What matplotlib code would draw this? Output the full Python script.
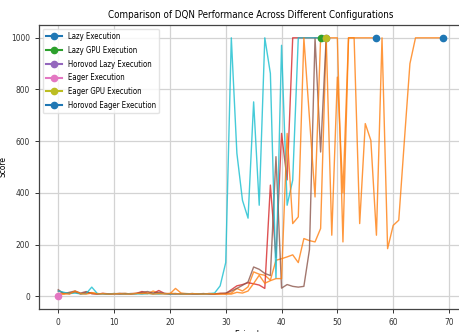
import matplotlib
matplotlib.use("Agg")
import matplotlib.pyplot as plt

# ---------------- data ----------------
config_names = ["Lazy Execution", "Lazy GPU Execution", "Horovod Lazy Execution",
                "Eager Execution", "Eager GPU Execution", "Horovod Eager Execution"]

lazy_scores = [10, 8, 12, 15, 9, 11, 14, 10, 9, 8, 10, 9, 11, 8, 10, 12, 9, 20, 11, 10,
               9, 30, 12, 10, 9, 8, 10, 9, 8, 10, 10,
               12, 30, 20, 36, 94, 85, 81, 62, 139, 145, 152, 160, 130, 223, 215, 210, 262,
               1000, 1000, 1000, 210, 1000, 1000, 1000, 1000, 1000, 1000]

lazy_gpu_scores = [20, 12, 10, 18, 9, 15, 10, 8, 11, 9, 10, 8, 9, 10, 11, 18, 12, 10, 22, 11,
                   9, 10, 8, 9, 10, 8, 9, 10, 9, 11, 10,
                   25, 40, 45, 52, 48, 43, 30, 430, 150, 630, 450, 1000, 1000, 1000, 1000,
                   1000, 1000]

horovod_lazy_scores = [25, 10, 15, 20, 12, 18, 10, 9, 10, 8, 9, 11, 10, 9, 10, 15, 18, 12, 15,
                       10, 9, 8, 10, 9, 8, 9, 10, 8, 9, 10, 12,
                       20, 30, 42, 55, 113, 104, 88, 80, 540, 31, 45, 38, 35, 38, 180, 1000,
                       558, 1000]

eager_scores = [0]

eager_gpu_scores = [20, 15, 10, 12, 9, 10, 35, 10, 9, 8, 10, 9, 8, 10, 9, 8, 10, 9, 8, 10,
                    9, 10, 8, 9, 10, 9, 8, 10, 12, 40, 130,
                    1000, 553, 371, 302, 752, 352, 1000, 862, 70, 971, 352, 449, 1000, 1000,
                    1000, 1000, 1000, 1000]

horovod_eager_scores = [5, 10, 8, 20, 10, 8, 12, 9, 10, 8, 9, 10, 8, 9, 11, 10, 12, 8, 10, 9,
                        11, 10, 9, 8, 10, 9, 8, 10, 9, 8, 8,
                        8, 15, 12, 20, 49, 81, 50, 60, 68, 68, 630, 281, 307, 1000, 690, 384,
                        1000, 1000, 236, 848, 400, 1000, 1000, 281, 668, 603, 236, 1000, 184,
                        274, 294, 600, 900, 1000, 1000, 1000, 1000, 1000, 1000]

all_scores = [lazy_scores, lazy_gpu_scores, horovod_lazy_scores, eager_scores,
              eager_gpu_scores, horovod_eager_scores]

marker_colors = ["#1f77b4", "#2ca02c", "#9467bd", "#e377c2", "#bcbd22", "#1f77b4"]
line_colors = ["#ff7f0e", "#d62728", "#8c564b", "#7f7f7f", "#17becf", "#ff7f0e"]

# ---------------- plot ----------------
plt.rcParams['font.family'] = ['DejaVu Sans']
plt.rcParams['font.stretch'] = 'condensed'

fig = plt.figure(figsize=(4.59, 3.32), dpi=100)
ax = fig.add_axes([0.085, 0.069, 0.923, 0.856])

for i, (name, scores) in enumerate(zip(config_names, all_scores)):
    eps = list(range(len(scores)))
    ax.plot(eps, scores, color=line_colors[i], lw=1.0, alpha=0.8, zorder=2)
    ax.plot([eps[-1]], [scores[-1]], marker='o', linestyle='-', color=marker_colors[i],
            markersize=4.5, label=name, zorder=3 + i * 0.1)

ax.set_xlim(-3.45, 72.45)
ax.set_ylim(-50, 1050)
ax.set_xticks([0, 10, 20, 30, 40, 50, 60, 70])
ax.set_yticks([0, 200, 400, 600, 800, 1000])
ax.tick_params(labelsize=6, length=3, width=0.7, colors='#333333')
ax.grid(True, color='#d3d3d3', lw=0.9)
ax.set_axisbelow(True)
for s in ax.spines.values():
    s.set_color('#444444')
    s.set_linewidth(0.9)

ax.set_title("Comparison of DQN Performance Across Different Configurations", fontsize=7, pad=5)
ax.set_xlabel("Episodes", fontsize=6, labelpad=2)
ax.set_ylabel("Score", fontsize=6, labelpad=2.5)
ax.legend(loc='upper left', fontsize=5.6, frameon=True, framealpha=0.8, borderpad=0.4,
          labelspacing=0.62, handlelength=2.0, edgecolor='#dddddd')

fig.savefig("out.png", dpi=100)
